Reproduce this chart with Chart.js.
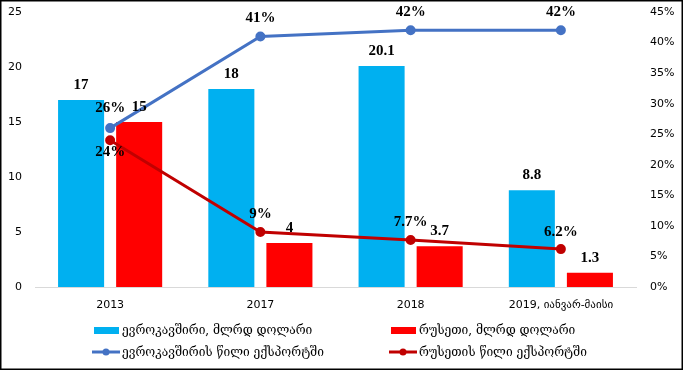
<!DOCTYPE html>
<html>
<head>
<meta charset="utf-8">
<script src="https://cdn.jsdelivr.net/npm/chart.js@4.4.1/dist/chart.umd.min.js"></script>
<style>
  html, body { margin: 0; padding: 0; background: #fff; }
  #wrap { width: 683px; height: 370px; }
</style>
</head>
<body>
<div id="wrap"><canvas id="exports" width="683" height="370"></canvas></div>
<script>
// categories and values
const years = ['2013', '2017', '2018', '2019, იანვარ-მაისი'];
const euExports = [17, 18, 20.1, 8.8];   // bln USD
const ruExports = [15, 4, 3.7, 1.3];     // bln USD
const euShare = [26, 41, 42, 42];        // % of exports
const ruShare = [24, 9, 7.7, 6.2];       // % of exports
const leftMax = 25;
const rightMax = 45;

const tickFont = { family: "Tahoma, 'DejaVu Sans', sans-serif", size: 11 };
const valueFont = "bold 15px 'Liberation Serif', 'DejaVu Serif', serif";
const legendFont = "12px 'DejaVu Serif', 'DejaVu Sans', serif";

// value labels above bars / around line points
const valueLabels = {
    id: 'valueLabels',
    afterDatasetsDraw(chart) {
        const ctx = chart.ctx;
        ctx.save();
        ctx.font = valueFont;
        ctx.fillStyle = '#000';
        ctx.textAlign = 'center';
        ctx.textBaseline = 'middle';
        chart.data.datasets.forEach((ds, i) => {
            const meta = chart.getDatasetMeta(i);
            meta.data.forEach((el, j) => {
                const v = ds.data[j];
                const txt = ds.type === 'line' ? v + '%' : String(v);
                const dy = ds.type === 'line' ? ds.labelOffsets[j] : -15;
                ctx.fillText(txt, el.x, el.y + dy);
            });
        });
        ctx.restore();
    }
};

// two-column legend under the axis, plus the outer frame
const legendAndFrame = {
    id: 'legendAndFrame',
    afterDraw(chart) {
        const ctx = chart.ctx;
        const a = chart.chartArea;
        const cols = [a.left + 59, a.left + 356];
        const rows = [a.bottom + 43, a.bottom + 65];
        ctx.save();
        ctx.font = legendFont;
        ctx.textBaseline = 'middle';
        ctx.textAlign = 'left';
        chart.data.datasets.forEach((ds, i) => {
            const x = cols[i % 2];
            const y = rows[Math.floor(i / 2)];
            if (ds.type === 'line') {
                ctx.strokeStyle = ds.borderColor;
                ctx.lineWidth = 3;
                ctx.beginPath();
                ctx.moveTo(x - 2, y);
                ctx.lineTo(x + 26, y);
                ctx.stroke();
                ctx.fillStyle = ds.borderColor;
                ctx.beginPath();
                ctx.arc(x + 12, y, 3.5, 0, Math.PI * 2);
                ctx.fill();
            } else {
                ctx.fillStyle = ds.backgroundColor;
                ctx.fillRect(x, y - 3, 25, 7);
            }
            ctx.fillStyle = '#000';
            ctx.fillText(ds.label, x + 28, y + 1);
        });
        ctx.strokeStyle = '#000';
        ctx.lineWidth = 1.5;
        ctx.strokeRect(0.75, 0.75, chart.width - 1.5, chart.height - 1.5);
        ctx.restore();
    }
};

const chartdata = {
    labels: years,
    datasets: [
        {
            type: 'bar',
            label: 'ევროკავშირი, მლრდ დოლარი',
            data: euExports,
            backgroundColor: '#00B0F0',
            yAxisID: 'y',
            order: 2
        },
        {
            type: 'bar',
            label: 'რუსეთი, მლრდ დოლარი',
            data: ruExports,
            backgroundColor: '#FF0000',
            yAxisID: 'y',
            order: 2
        },
        {
            type: 'line',
            label: 'ევროკავშირის წილი ექსპორტში',
            data: euShare,
            borderColor: '#4472C4',
            backgroundColor: '#4472C4',
            borderWidth: 3,
            pointRadius: 3.5,
            tension: 0,
            yAxisID: 'y1',
            order: 1,
            labelOffsets: [-20, -18, -18, -18]
        },
        {
            type: 'line',
            label: 'რუსეთის წილი ექსპორტში',
            data: ruShare,
            borderColor: '#C00000',
            backgroundColor: '#C00000',
            borderWidth: 3,
            pointRadius: 3.5,
            tension: 0,
            yAxisID: 'y1',
            order: 1,
            labelOffsets: [12, -18, -18, -17]
        }
    ]
};

function fitVertical(width) {
    return function (scale) {
        scale.width = width;
        scale.paddingTop = 0;
        scale.paddingBottom = 0;
    };
}

const chartconfig = {
    type: 'bar',
    data: chartdata,
    options: {
        responsive: false,
        animation: false,
        layout: { padding: { top: 12, bottom: 57, left: 0, right: 0 } },
        datasets: {
            bar: { categoryPercentage: 0.773, barPercentage: 0.793 }
        },
        plugins: {
            legend: { display: false },
            tooltip: { enabled: false }
        },
        scales: {
            x: {
                grid: { display: false, drawTicks: false },
                border: { display: true, color: '#D9D9D9', width: 1 },
                ticks: { font: tickFont, color: '#000', padding: 12, maxRotation: 0 },
                afterFit(scale) { scale.height = 26; }
            },
            y: {
                position: 'left',
                min: 0,
                max: leftMax,
                grid: { display: false, drawTicks: false },
                border: { display: false },
                ticks: { stepSize: 5, font: tickFont, color: '#000', padding: 13 },
                afterFit: fitVertical(35)
            },
            y1: {
                position: 'right',
                min: 0,
                max: rightMax,
                grid: { display: false, drawTicks: false },
                border: { display: false },
                ticks: {
                    stepSize: 5,
                    font: tickFont,
                    color: '#000',
                    padding: 14,
                    callback: v => v + '%'
                },
                afterFit: fitVertical(47)
            }
        }
    },
    plugins: [valueLabels, legendAndFrame]
};

const chart = new Chart(document.getElementById('exports'), chartconfig);
</script>
</body>
</html>
